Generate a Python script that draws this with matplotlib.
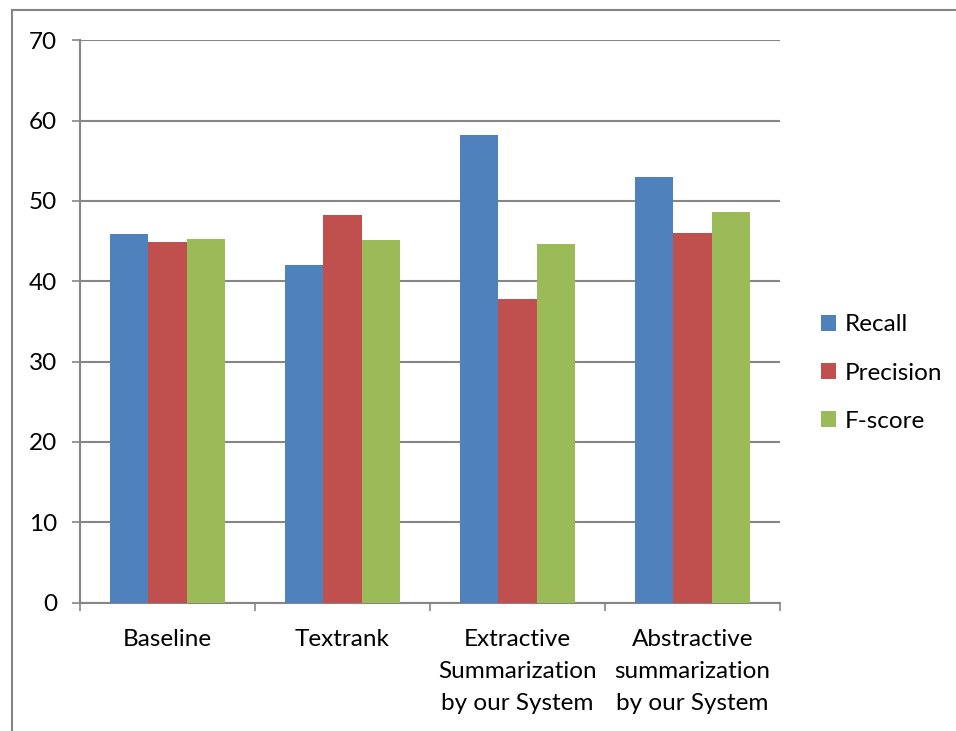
import numpy as np
import matplotlib.pyplot as plt
from matplotlib.lines import Line2D
from matplotlib.patches import Patch

plt.rcParams['font.family'] = ['Lato', 'DejaVu Sans']

categories = ["Baseline", "Textrank",
              "Extractive\nSummarization\nby our System",
              "Abstractive\nsummarization\nby our System"]
series_names = ["Recall", "Precision", "F-score"]
recall = [45.9, 42.0, 58.2, 53.0]
precision = [44.9, 48.2, 37.8, 46.0]
fscore = [45.3, 45.2, 44.6, 48.6]
yticks = [0, 10, 20, 30, 40, 50, 60, 70]

colors = ["#4F81BD", "#C0504D", "#9BBB59"]
grey = "#868686"
fs = 17.5

fig = plt.figure(figsize=(9.56, 7.31), dpi=100)
ax = fig.add_axes([80 / 956, 1 - 602.6 / 731, 700 / 956, 562.3 / 731])

x = np.arange(len(categories))
w = 0.22
for i, (vals, name) in enumerate(zip([recall, precision, fscore], series_names)):
    ax.bar(x + (i - 1) * w, vals, width=w, color=colors[i], label=name, zorder=3)

ax.set_xlim(-0.5, len(categories) - 0.5)
ax.set_ylim(0, 70)
ax.set_yticks(yticks)
ax.yaxis.grid(True, color=grey, linewidth=1.5, zorder=0)

ax.set_xticks(x)
ax.set_xticklabels(categories, fontsize=fs, linespacing=1.66)
ax.set_xticks(np.arange(len(categories) + 1) - 0.5, minor=True)
ax.tick_params(axis='x', which='major', length=0, pad=19)
ax.tick_params(axis='x', which='minor', length=5.5, width=1.2, color=grey, direction='out')
ax.tick_params(axis='y', length=5.5, width=1.2, color=grey, direction='out', pad=11, labelsize=fs)

for side in ['top', 'right']:
    ax.spines[side].set_visible(False)
for side in ['left', 'bottom']:
    ax.spines[side].set_color(grey)
    ax.spines[side].set_linewidth(1.5)

# legend on the right
handles = [Patch(facecolor=c, edgecolor='none') for c in colors]
ax.legend(handles, series_names, loc='center left', bbox_to_anchor=(799 / 956, 1 - 373 / 731),
          bbox_transform=fig.transFigure, frameon=False, fontsize=fs,
          handlelength=0.62, handleheight=0.62, handletextpad=0.35, labelspacing=1.12)

# chart area border (top and left edges)
fig.add_artist(Line2D([12 / 956, 1], [1 - 10 / 731, 1 - 10 / 731], color=grey, linewidth=1.5,
                      transform=fig.transFigure))
fig.add_artist(Line2D([12 / 956, 12 / 956], [0, 1 - 10 / 731], color=grey, linewidth=1.5,
                      transform=fig.transFigure))

fig.savefig("out.png", dpi=100)
